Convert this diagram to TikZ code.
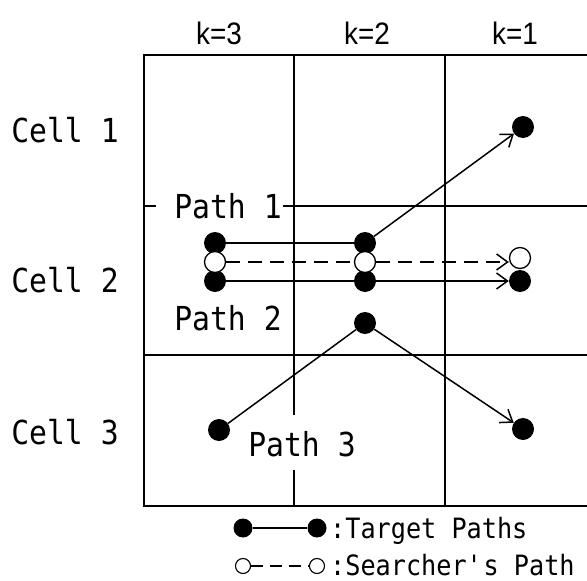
\documentclass[tikz,border=0pt]{standalone}
\usepackage{fontspec}
\usetikzlibrary{arrows.meta}
\newfontfamily\labelfont[FakeStretch=0.9]{DejaVu Sans Mono}
\newfontfamily\kfont[FakeStretch=0.9]{Liberation Sans}
\begin{document}
\begin{tikzpicture}[x=1pt,y=-1pt,
  grid/.style={line width=2.4pt},
  dot/.style={circle,fill=black,inner sep=0pt,minimum size=22pt},
  hollow/.style={circle,draw=black,fill=white,line width=1.3pt,inner sep=0pt,minimum size=21pt},
  smalldot/.style={circle,fill=black,inner sep=0pt,minimum size=19pt},
  smallhollow/.style={circle,draw=black,fill=white,line width=1.1pt,inner sep=0pt,minimum size=15pt},
  tpath/.style={line width=1.5pt},
  spath/.style={line width=1.5pt,dash pattern=on 14pt off 8pt},
  tip/.style={-{Straight Barb[length=11pt,width=16pt,line width=1.5pt]}},
  lbl/.style={font=\labelfont\fontsize{33}{33}\selectfont,inner sep=0pt},
  legend/.style={font=\labelfont\fontsize{28}{28}\selectfont,inner sep=0pt,anchor=west},
  klbl/.style={font=\kfont\fontsize{31}{31}\selectfont,inner sep=0pt}]
\useasboundingbox (0,0) rectangle (587,581);

% cell grid
\draw[grid] (587,55) -- (144,55) -- (144,506) -- (587,506);
\draw[grid] (294,55) -- (294,415);
\draw[grid] (294,470) -- (294,506);
\draw[grid] (445,55) -- (445,506);
\draw[grid] (144,206) -- (156,206);
\draw[grid] (283,206) -- (587,206);
\draw[grid] (144,355) -- (587,355);

% stage and cell labels
\node[klbl] (k3) at (219,33) {k=3};
\node[klbl] (k2) at (367,33) {k=2};
\node[klbl] (k1) at (515,33) {k=1};
\node[lbl] (cell1) at (65,130) {Cell 1};
\node[lbl] (cell2) at (65,280) {Cell 2};
\node[lbl] (cell3) at (65,432) {Cell 3};
\node[lbl] (lp1) at (228,206) {Path 1};
\node[lbl] (lp2) at (228,318) {Path 2};
\node[lbl] (lp3) at (302,444) {Path 3};

% path points
\node[dot] (C1) at (523,127) {};
\node[dot] (A3) at (215,243) {};
\node[dot] (A2) at (365,243) {};
\node[dot] (B3) at (215,281) {};
\node[dot] (B2) at (365,281) {};
\node[hollow] (S3) at (215,262) {};
\node[hollow] (S2) at (365,262) {};
\node[hollow] (S1) at (520,258) {};
\node[dot] (B1) at (520,281) {};
\node[dot] (D3) at (219,430) {};
\node[dot] (D2) at (365,323) {};
\node[dot] (D1) at (523,429) {};

% target paths and searcher's path
\draw[tpath] (A3) -- (A2);
\draw[tpath,tip] (A2) -- (C1);
\draw[tpath] (B3) -- (B2);
\draw[tpath,tip] (B2) -- (B1);
\draw[spath] (S3) -- (S2);
\draw[spath,tip] (S2.east) -- (S1.west |- S2.east);
\draw[tpath] (D3) -- (D2);
\draw[tpath,tip] (D2) -- (D1);

% legend
\node[smalldot] (L1) at (243,528) {};
\node[smalldot] (L2) at (317,528) {};
\draw[tpath] (L1) -- (L2);
\node[legend] (lt) at (330,531) {:Target Paths};
\node[smallhollow] (M1) at (243,566) {};
\node[smallhollow] (M2) at (317,566) {};
\draw[tpath,dash pattern=on 12pt off 7pt] (M1) -- (M2);
\node[legend] (ls) at (330,565) {:Searcher\textquotesingle s Path};
\end{tikzpicture}
\end{document}
